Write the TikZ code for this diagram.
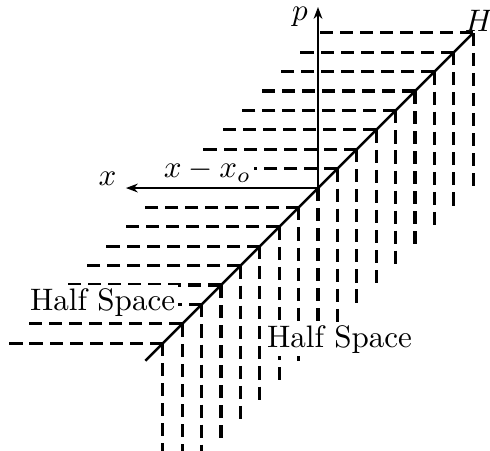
\documentclass[tikz,border=0pt]{standalone}
\usetikzlibrary{arrows.meta}

\begin{document}
\begin{tikzpicture}[x=6.245pt,y=6.245pt,line width=0.8pt,
  axis/.style={-{Stealth[length=3.8pt,width=2.8pt,inset=1.2pt]},line width=0.8pt},
  grid/.style={line width=1pt,dash pattern=on 4.2pt off 2.25pt},
  tag/.style={fill=white,inner sep=1pt,anchor=base}]
\useasboundingbox (-16.39,-13.505) rectangle (8.866,9.691);
\clip (-16.39,-13.505) rectangle (8.866,9.691);

\coordinate (O) at (0,0);
\coordinate (H) at (8,8);
\coordinate (D) at (-8.9,-8.9);
\coordinate (pTip) at (0,9.33);
\coordinate (xTip) at (-9.9,0);

% dashed lines down and to the left of each point of the line
\foreach \k in {-8,...,8}{
  \draw[grid] (\k,\k) -- (\k,\k-8);
  \ifnum\k=0 \else \draw[grid] (\k,\k) -- (\k-8,\k); \fi
}

\node[tag] (xoLabel) at (-5.7,0.52) {$x-x_o$};
\node[tag] (leftHalf) at (-11.1,-6.29) {Half Space};
\node[tag] (rightHalf) at (1.11,-8.2) {Half Space};
\node[anchor=base] (xLabel) at (-10.85,0.15) {$x$};
\node (pLabel) at (-0.93,8.81) {$p$};
\node[inner sep=0.5pt] (hLabel) at (8.3,8.6) {$H$};

\draw (D) -- (H);
\draw[axis] (O) -- (xTip);
\draw[axis] (O) -- (pTip);
\end{tikzpicture}
\end{document}
